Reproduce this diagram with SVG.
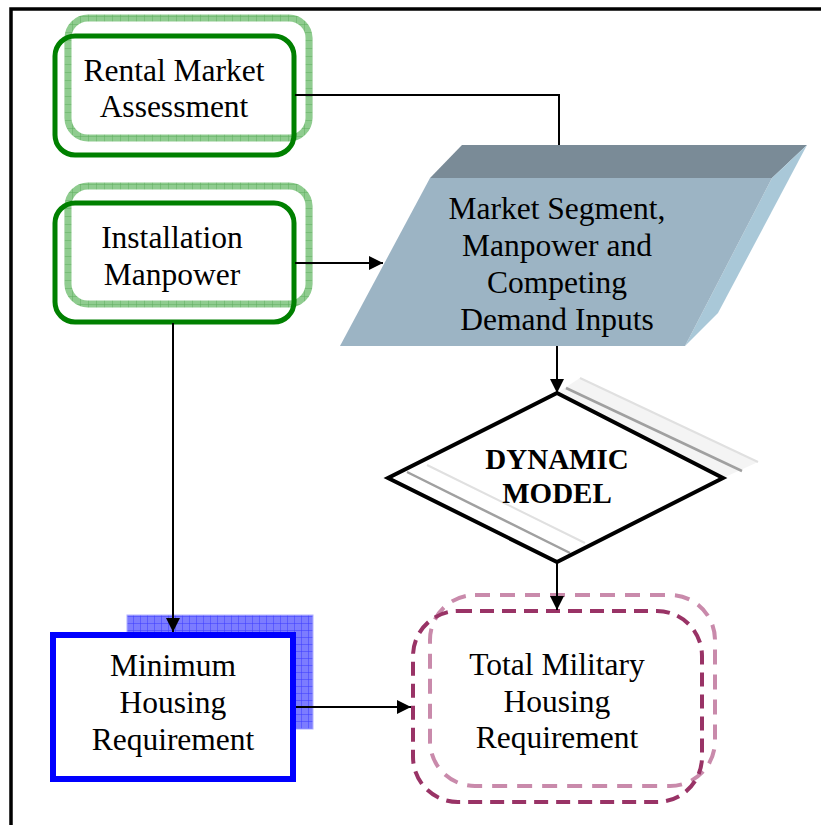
<svg xmlns="http://www.w3.org/2000/svg" width="821" height="825" viewBox="0 0 821 825">
<defs>
<pattern id="gh" width="8" height="8" patternUnits="userSpaceOnUse">
<rect width="8" height="8" fill="#8fcc8f"/>
<path d="M0 0V8M0 0H8" stroke="#5fae5f" stroke-width="1"/>
</pattern>
<pattern id="bh" width="7" height="7" patternUnits="userSpaceOnUse">
<rect width="7" height="7" fill="#7c7cff"/>
<path d="M0 0V7M0 0H7" stroke="#3a3aff" stroke-width="1"/>
</pattern>
<marker id="ah" viewBox="0 0 10 10" refX="10" refY="5" markerWidth="14" markerHeight="14" markerUnits="userSpaceOnUse" orient="auto">
<path d="M0 0L10 5L0 10Z" fill="#000"/>
</marker>
<style>
.t{font-family:"Liberation Serif","Times New Roman",serif;font-size:31.5px;fill:#000;text-anchor:middle}
.b{font-weight:bold;font-size:29px}
.gf{fill:none;stroke:#008000;stroke-width:5}
.gb{fill:none;stroke:url(#gh);stroke-width:7}
.c{fill:none;stroke:#000;stroke-width:2}
</style>
</defs>
<rect width="821" height="825" fill="#fff"/>
<path d="M11 825V9H821" fill="none" stroke="#000" stroke-width="3.5"/>

<g id="rental">
<rect x="68" y="18" width="241" height="120" rx="20" class="gb"/>
<rect x="55" y="36" width="239" height="119" rx="20" class="gf"/>
<text class="t" x="174" y="81">Rental Market</text>
<text class="t" x="174" y="117">Assessment</text>
</g>

<g id="manpower">
<rect x="68" y="186" width="241" height="118" rx="20" class="gb"/>
<rect x="55" y="203" width="239" height="119" rx="20" class="gf"/>
<text class="t" x="172" y="248">Installation</text>
<text class="t" x="172" y="285">Manpower</text>
</g>

<g id="inputs">
<polygon points="430,178 462,145 807,145 772,178" fill="#7a8b97"/>
<polygon points="772,178 807,145 718,313 685,346" fill="#a9c8d8"/>
<polygon points="430,178 772,178 685,346 340,346" fill="#9cb4c4"/>
<text class="t" x="557" y="219">Market Segment,</text>
<text class="t" x="557" y="256">Manpower and</text>
<text class="t" x="557" y="293">Competing</text>
<text class="t" x="557" y="330">Demand Inputs</text>
</g>

<g id="dynamic">
<polygon points="557,393 580,378 758,462 723,478" fill="#f4f4f4"/>
<path d="M566 388L742 471" stroke="#a0a0a0" stroke-width="2.5" fill="none"/>
<path d="M580 378L758 462" stroke="#e0e0e0" stroke-width="2" fill="none"/>
<path d="M407 472L570 553" stroke="#a0a0a0" stroke-width="2.5" fill="none"/>
<path d="M427 465L585 543" stroke="#e0e0e0" stroke-width="2" fill="none"/>
<polygon points="557,393 723,478 557,562 388,478" fill="none" stroke="#000" stroke-width="4"/>
<text class="t b" x="557" y="469">DYNAMIC</text>
<text class="t b" x="557" y="503">MODEL</text>
</g>

<g id="minimum">
<rect x="127" y="615" width="186" height="114" fill="url(#bh)" stroke="#b0b0ff" stroke-width="1"/>
<rect x="53" y="635" width="240" height="144" fill="#fff" stroke="#0000ff" stroke-width="6"/>
<text class="t" x="173" y="676">Minimum</text>
<text class="t" x="173" y="713">Housing</text>
<text class="t" x="173" y="750">Requirement</text>
</g>

<g id="total">
<rect x="430" y="595" width="285" height="191" rx="45" fill="none" stroke="#c98aab" stroke-width="4" stroke-dasharray="15 10"/>
<rect x="413" y="611" width="289" height="191" rx="45" fill="none" stroke="#993366" stroke-width="4" stroke-dasharray="14 8"/>
<text class="t" x="557" y="675">Total Military</text>
<text class="t" x="557" y="712">Housing</text>
<text class="t" x="557" y="748">Requirement</text>
</g>

<g id="connectors">
<path class="c" d="M295 95H559V145"/>
<path class="c" d="M295 263H383" marker-end="url(#ah)"/>
<path class="c" d="M557 346V393" marker-end="url(#ah)"/>
<path class="c" d="M173 323V632" marker-end="url(#ah)"/>
<path class="c" d="M557 562V610" marker-end="url(#ah)"/>
<path class="c" d="M296 707H411" marker-end="url(#ah)"/>
</g>
</svg>
